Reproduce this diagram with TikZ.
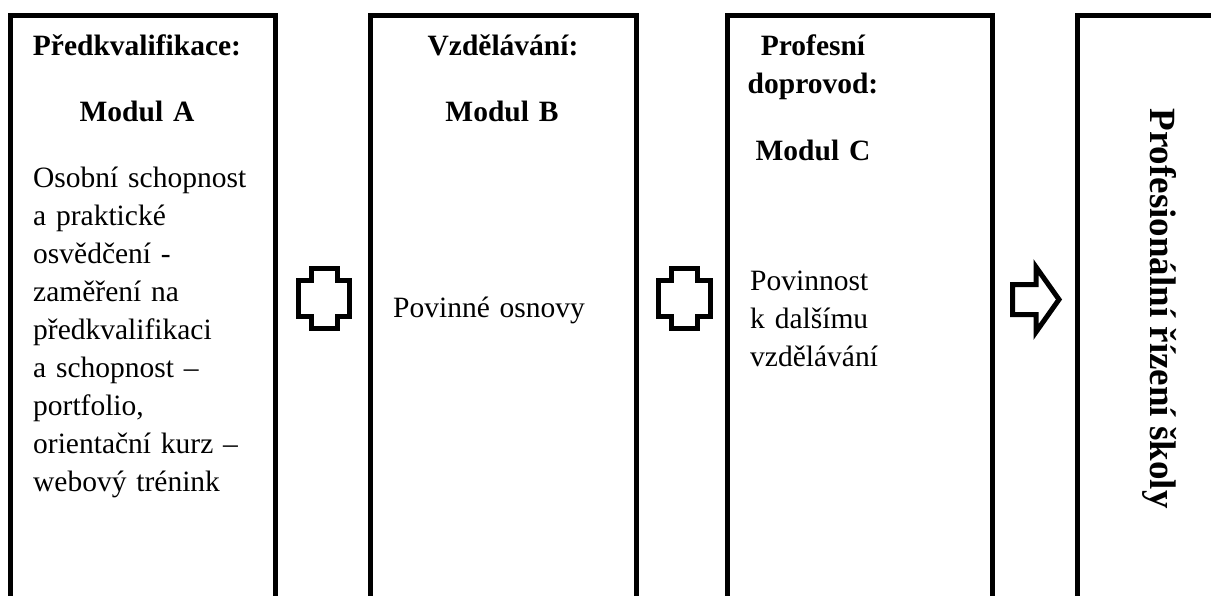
\documentclass[tikz,border=0pt]{standalone}
\usepackage{fontspec}
\setmainfont{Liberation Serif}
\begin{document}
\begin{tikzpicture}[x=1pt,y=-1pt,
  frame/.style={draw=black, line width=5pt, line join=miter},
  sign/.style={draw=black, line width=5pt, line join=miter},
  body/.style={font=\fontsize{29.5}{38}\selectfont, inner sep=0pt, align=left, anchor=base west},
  head/.style={font=\fontsize{29.5}{38}\selectfont\bfseries, inner sep=0pt, align=center, anchor=base},
  side/.style={font=\fontsize{37}{44}\selectfont\bfseries, inner sep=0pt, anchor=base, rotate=-90}]
\useasboundingbox (0,0) rectangle (1211,595);
\clip (0,0) rectangle (1211,595);

% column frames, open at the bottom
\draw[frame] (10.5,640) |- (275.5,15.5) -- (275.5,640);
\draw[frame] (370.5,640) |- (636,15.5) -- (636,640);
\draw[frame] (727.5,640) |- (992.5,15.5) -- (992.5,640);
\draw[frame] (1077.5,640) |- (1240,15.5);

% module A
\node[head, text width=240] (headA) at (137,55) {Předkvalifikace:};
\node[head, text width=240] (modA) at (137,121) {Modul A};
\node[body, text width=240] (bodyA) at (33,187) {Osobní schopnost\\a praktické\\osvědčení -\\zaměření na\\předkvalifikaci\\a schopnost –\\portfolio,\\orientační kurz –\\webový trénink};

% module B
\node[head, text width=240] (headB) at (503,55) {Vzdělávání:};
\node[head, text width=240] (modB) at (502,121) {Modul B};
\node[body, text width=230] (bodyB) at (393,317) {Povinné osnovy};

% module C
\node[head, text width=160] (headC) at (813,55) {Profesní\\doprovod:};
\node[head, text width=160] (modC) at (813,160) {Modul C};
\node[body, text width=220] (bodyC) at (750,290) {Povinnost\\k dalšímu\\vzdělávání};

% result column
\node[side] (result) at (1150,308.5) {Profesionální řízení školy};

% plus signs between the modules
\draw[sign] (311,268.5) -- (337,268.5) -- (337,280.5) -- (349.5,280.5) -- (349.5,316.5)
  -- (337,316.5) -- (337,328.5) -- (311,328.5) -- (311,316.5) -- (298.5,316.5)
  -- (298.5,280.5) -- (311,280.5) -- cycle;
\draw[sign] (671.5,268.5) -- (697.5,268.5) -- (697.5,280.5) -- (710.5,280.5) -- (710.5,316.5)
  -- (697.5,316.5) -- (697.5,328.5) -- (671.5,328.5) -- (671.5,316.5) -- (658.5,316.5)
  -- (658.5,280.5) -- (671.5,280.5) -- cycle;

% arrow towards the result
\draw[sign] (1012.5,284.5) -- (1036,284.5) -- (1036,267) -- (1059,299.5) -- (1036,332)
  -- (1036,314.5) -- (1012.5,314.5) -- cycle;
\end{tikzpicture}
\end{document}
